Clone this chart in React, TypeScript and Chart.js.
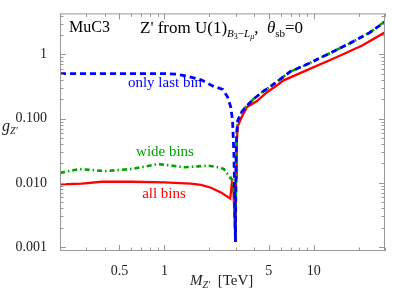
import { useEffect, useRef } from "react";
import { Chart, registerables } from "chart.js";

Chart.register(...registerables);

// ---- data ----
const massAllBins = [0.2, 0.28, 0.38, 0.6, 1.0, 1.5, 1.76, 2.05, 2.39, 2.76, 2.83, 2.9, 2.95, 2.99, 3.02, 3.05, 3.1, 3.3, 3.58, 4.17, 4.86, 5.66, 6.23, 9.41, 14.2, 21.1, 30];
const gAllBins = [0.0095, 0.0097, 0.0104, 0.0104, 0.0102, 0.0097, 0.0093, 0.0084, 0.0071, 0.0057, 0.0100, 0.0075, 0.003, 0.0012, 0.012, 0.042, 0.076, 0.107, 0.152, 0.187, 0.257, 0.327, 0.39, 0.593, 0.9, 1.37, 2.2];

const massWideBins = [0.2, 0.27, 0.4, 0.6, 0.91, 1.36, 1.96, 2.3, 2.5, 2.78, 2.86, 2.92, 2.96, 2.99, 3.02, 3.05, 3.1, 3.3, 3.58, 3.95, 4.59, 5.35, 6.93, 9.41, 12.8, 17.3, 23.5, 30];
const gWideBins = [0.0143, 0.0164, 0.0152, 0.0164, 0.0196, 0.0175, 0.0185, 0.0175, 0.0164, 0.0117, 0.0112, 0.008, 0.003, 0.0012, 0.025, 0.059, 0.093, 0.128, 0.159, 0.201, 0.266, 0.339, 0.534, 0.731, 1.04, 1.47, 2.15, 3.25];

const massLastBin = [0.2, 0.5, 1.0, 1.2, 1.4, 1.76, 2.14, 2.46, 2.65, 2.78, 2.86, 2.92, 2.96, 2.99, 3.02, 3.05, 3.1, 3.3, 3.58, 3.95, 4.59, 5.35, 6.93, 9.41, 12.8, 17.3, 23.5, 30];
const gLastBin = [0.5, 0.5, 0.5, 0.49, 0.46, 0.40, 0.316, 0.285, 0.216, 0.152, 0.093, 0.029, 0.005, 0.0012, 0.023, 0.059, 0.093, 0.128, 0.159, 0.201, 0.266, 0.339, 0.534, 0.731, 1.04, 1.47, 2.15, 3.2];

const xTickValues = [0.5, 1, 5, 10];
const xTickLabels = ["0.5", "1", "5", "10"];
const yTickValues = [0.001, 0.01, 0.1, 1];
const yTickLabels = ["0.001", "0.010", "0.100", "1"];
const xMinorTicks = [0.2, 0.3, 0.4, 0.6, 0.7, 0.8, 0.9, 2, 3, 4, 6, 7, 8, 9, 20, 30];
const yDecades = [0.001, 0.01, 0.1, 1];
const yMinorMultipliers = [2, 3, 4, 5, 6, 7, 8, 9];

const X_MIN = 0.2;
const X_MAX = 30;
const Y_MIN = 0.00087;
const Y_MAX = 4.33;

const RED = "rgb(255,0,0)";
const GREEN = "rgb(0,165,0)";
const BLUE = "rgb(0,0,255)";
const FRAME = "#999999";
const SERIF = "'Liberation Serif', 'DejaVu Serif', serif";

type Seg = { t: string; size: number; italic?: boolean; dy?: number };

function drawSegs(ctx: CanvasRenderingContext2D, segs: Seg[], x: number, y: number, color: string) {
  let cx = x;
  ctx.fillStyle = color;
  ctx.textBaseline = "alphabetic";
  ctx.textAlign = "left";
  for (const s of segs) {
    ctx.font = `${s.italic ? "italic " : ""}${s.size}px ${SERIF}`;
    ctx.fillText(s.t, cx, y + (s.dy || 0));
    cx += ctx.measureText(s.t).width;
  }
}

const framePlugin = {
  id: "framePlugin",
  afterDatasetsDraw(chart: any) {
    const { ctx, chartArea: a, scales } = chart;
    const xs = scales.x;
    const ys = scales.y;
    ctx.save();
    ctx.strokeStyle = FRAME;
    ctx.lineWidth = 1;
    ctx.strokeRect(a.left + 0.5, a.top + 0.5, a.right - a.left - 1, a.bottom - a.top - 1);
    const tick = (x1: number, y1: number, x2: number, y2: number) => {
      ctx.beginPath();
      ctx.moveTo(x1, y1);
      ctx.lineTo(x2, y2);
      ctx.stroke();
    };
    const xt = (v: number, len: number) => {
      const px = Math.round(xs.getPixelForValue(v)) + 0.5;
      tick(px, a.bottom, px, a.bottom - len);
      tick(px, a.top, px, a.top + len);
    };
    xTickValues.forEach((v) => xt(v, 6));
    xMinorTicks.forEach((v) => xt(v, 3.5));
    const yt = (v: number, len: number) => {
      if (v < Y_MIN || v > Y_MAX) return;
      const py = Math.round(ys.getPixelForValue(v)) + 0.5;
      tick(a.left, py, a.left + len, py);
      tick(a.right, py, a.right - len, py);
    };
    yTickValues.forEach((v) => yt(v, 6));
    yDecades.forEach((d) => yMinorMultipliers.forEach((m) => yt(d * m, 3.5)));
    ctx.restore();

    ctx.save();
    // in-plot annotations
    drawSegs(ctx, [{ t: "MuC3", size: 16 }], 69, 32, "#000");
    drawSegs(
      ctx,
      [
        { t: "Z' from U(1)", size: 17 },
        { t: "B", size: 11, italic: true, dy: 4 },
        { t: "3", size: 8, dy: 6 },
        { t: "\u2212", size: 11, dy: 4 },
        { t: "L", size: 11, italic: true, dy: 4 },
        { t: "\u03bc", size: 8, italic: true, dy: 6 },
        { t: ",  ", size: 17 },
        { t: "\u03b8", size: 17, italic: true },
        { t: "sb", size: 11, dy: 4 },
        { t: "=0", size: 17 },
      ],
      140,
      33,
      "#000"
    );
    ctx.textAlign = "center";
    ctx.font = `15px ${SERIF}`;
    ctx.fillStyle = BLUE;
    ctx.fillText("only last bin", 165, 87);
    ctx.fillStyle = GREEN;
    ctx.fillText("wide bins", 165, 156);
    ctx.fillStyle = RED;
    ctx.fillText("all bins", 164, 198);

    // axis titles
    drawSegs(ctx, [{ t: "g", size: 16, italic: true }, { t: "Z'", size: 10, italic: true, dy: 3 }], 2, 131, "#222");
    drawSegs(
      ctx,
      [
        { t: "M", size: 15, italic: true },
        { t: "Z'", size: 10, italic: true, dy: 3 },
        { t: "  [TeV]", size: 15 },
      ],
      190,
      285,
      "#222"
    );
    ctx.restore();
  },
};

export default function App() {
  const ref = useRef<HTMLCanvasElement | null>(null);
  useEffect(() => {
    if (!ref.current) return;
    const toPts = (xs: number[], ys: number[]) => xs.map((x, i) => ({ x, y: ys[i] }));
    const chart = new Chart(ref.current, {
      type: "line",
      data: {
        datasets: [
          {
            label: "only last bin",
            data: toPts(massLastBin, gLastBin),
            borderColor: BLUE,
            borderWidth: 2.8,
            borderDash: [6, 4],
            pointRadius: 0,
            tension: 0,
            fill: false,
          },
          {
            label: "wide bins",
            data: toPts(massWideBins, gWideBins),
            borderColor: GREEN,
            borderWidth: 2.6,
            borderDash: [5, 3, 1.5, 3],
            pointRadius: 0,
            tension: 0,
            fill: false,
          },
          {
            label: "all bins",
            data: toPts(massAllBins, gAllBins),
            borderColor: RED,
            borderWidth: 2.3,
            pointRadius: 0,
            tension: 0,
            fill: false,
          },
        ],
      },
      options: {
        animation: false,
        responsive: false,
        maintainAspectRatio: false,
        layout: { padding: { left: 8, right: 9, top: 7, bottom: 0 } },
        plugins: { legend: { display: false }, tooltip: { enabled: false }, title: { display: false } },
        scales: {
          x: {
            type: "logarithmic",
            min: X_MIN,
            max: X_MAX,
            grid: { display: false },
            border: { display: false },
            afterBuildTicks: (s: any) => {
              s.ticks = xTickValues.map((v) => ({ value: v }));
            },
            afterFit: (s: any) => {
              s.height = 43;
            },
            ticks: {
              autoSkip: false,
              maxRotation: 0,
              padding: 4,
              color: "#222",
              font: { family: SERIF, size: 14 },
              callback: (v: any) => {
                const i = xTickValues.indexOf(Number(v));
                return i >= 0 ? xTickLabels[i] : "";
              },
            },
          },
          y: {
            type: "logarithmic",
            min: Y_MIN,
            max: Y_MAX,
            grid: { display: false },
            border: { display: false },
            afterBuildTicks: (s: any) => {
              s.ticks = yTickValues.map((v) => ({ value: v }));
            },
            afterFit: (s: any) => {
              s.width = 52;
            },
            ticks: {
              autoSkip: false,
              padding: 5,
              color: "#222",
              font: { family: SERIF, size: 14 },
              callback: (v: any) => {
                const i = yTickValues.indexOf(Number(v));
                return i >= 0 ? yTickLabels[i] : "";
              },
            },
          },
        },
      },
      plugins: [framePlugin],
    });
    return () => chart.destroy();
  }, []);
  return (
    <div style={{ position: "absolute", left: 0, top: 0, width: 394, height: 294, background: "#fff" }}>
      <canvas ref={ref} width={394} height={294} style={{ display: "block" }} />
    </div>
  );
}
